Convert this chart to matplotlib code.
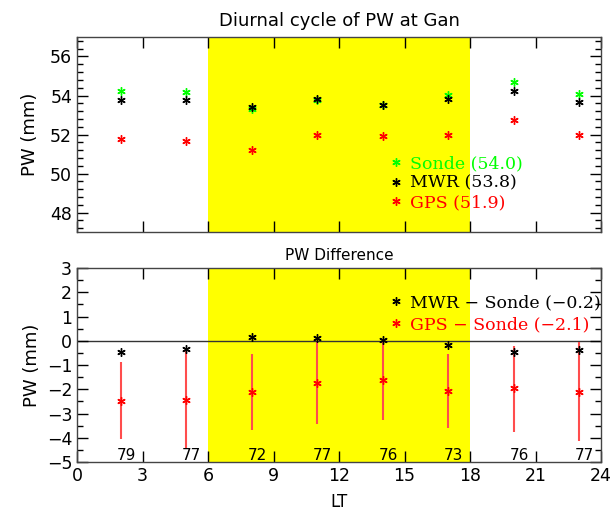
import matplotlib
matplotlib.use("Agg")
import matplotlib.pyplot as plt
import numpy as np

# local time bins (h)
lt = [2, 5, 8, 11, 14, 17, 20, 23]

# top panel: mean PW (mm)
pw_sonde = [54.25, 54.17, 53.30, 53.75, 53.50, 54.02, 54.70, 54.08]
pw_mwr = [53.76, 53.76, 53.41, 53.83, 53.50, 53.83, 54.22, 53.66]
pw_gps = [51.78, 51.69, 51.22, 51.98, 51.90, 51.95, 52.74, 51.99]

# bottom panel: differences (mm)
d_mwr = [-0.45, -0.34, 0.14, 0.12, 0.03, -0.18, -0.47, -0.38]
d_gps = [-2.47, -2.43, -2.10, -1.76, -1.60, -2.05, -1.96, -2.10]
d_gps_lo = [-4.05, -4.40, -3.68, -3.45, -3.28, -3.58, -3.76, -4.12]
d_gps_hi = [-0.88, -0.34, -0.54, -0.07, 0.00, -0.54, -0.20, -0.03]
counts = [79, 77, 72, 77, 76, 73, 76, 77]

ast = (6, 2, 0)  # 6-armed asterisk like IDL psym=2
sans = "DejaVu Sans"
serif = "DejaVu Serif"

fig = plt.figure(figsize=(6.13, 5.18), dpi=100)
ax1 = fig.add_axes([0.1256, 0.552, 0.855, 0.3766])
ax2 = fig.add_axes([0.1256, 0.108, 0.855, 0.3746])

for ax in (ax1, ax2):
    ax.axvspan(6, 18, color="#ffff00", lw=0, zorder=0)
    ax.set_xlim(0, 24)
    ax.set_xticks(np.arange(0, 25, 3))
    ax.tick_params(which="both", direction="in", top=True, right=True,
                   labelsize=12.5)
    ax.tick_params(which="major", length=8, width=1)
    ax.tick_params(which="minor", length=4, width=1)
    for s in ax.spines.values():
        s.set_linewidth(1.0)
        s.set_color("#444444")

mk = dict(ls="none", marker=ast, ms=6, mew=1.0)

# --- top panel
ax1.plot(lt, pw_sonde, color="#00ff00", label="Sonde (54.0)", **mk)
ax1.plot(lt, pw_mwr, color="black", label="MWR (53.8)", **mk)
ax1.plot(lt, pw_gps, color="#ff0000", label="GPS (51.9)", **mk)
ax1.set_ylim(47, 57)
ax1.set_yticks([48, 50, 52, 54, 56])
ax1.set_yticks(np.arange(47.2, 57, 0.4), minor=True)
ax1.tick_params(axis="x", labelbottom=False)
ax1.set_ylabel("PW (mm)", fontsize=13, family=sans, labelpad=8)
ax1.set_title("Diurnal cycle of PW at Gan", fontsize=13, family=sans, pad=8)
ax1.legend(loc="upper left", bbox_to_anchor=(0.585, 0.43), frameon=False,
           labelcolor="linecolor", handlelength=0.6, handletextpad=0.5,
           labelspacing=0.15, borderaxespad=0,
           prop={"family": serif, "size": 12.5})

# --- bottom panel
ax2.axhline(0, color="#333333", lw=1.0, zorder=1)
ax2.vlines(lt, d_gps_lo, d_gps_hi, color="#ff4d4d", lw=1.5, zorder=2)
ax2.plot(lt, d_mwr, color="black", label="MWR \u2212 Sonde (\u22120.2)",
         zorder=3, **mk)
ax2.plot(lt, d_gps, color="#ff0000", label="GPS \u2212 Sonde (\u22122.1)",
         zorder=3, **mk)
for x, n in zip(lt, counts):
    ax2.text(x + 0.25, -4.72, str(n), ha="center", va="center", fontsize=11,
             family=sans)
ax2.set_ylim(-5, 3)
ax2.set_yticks(np.arange(-5, 4, 1))
ax2.set_yticks(np.arange(-5, 3.01, 0.5), minor=True)
ax2.set_yticklabels([f"{v:d}".replace("-", "\u2212") for v in range(-5, 4)])
ax2.set_ylabel("PW (mm)", fontsize=13, family=sans, labelpad=4)
ax2.set_xlabel("LT", fontsize=12, family=sans, labelpad=6)
ax2.set_title("PW Difference", fontsize=11, family=sans, pad=6)
ax2.legend(loc="upper left", bbox_to_anchor=(0.585, 0.9), frameon=False,
           labelcolor="linecolor", handlelength=0.6, handletextpad=0.5,
           labelspacing=0.3, borderaxespad=0,
           prop={"family": serif, "size": 12.5})

fig.savefig("out.png", dpi=100)
